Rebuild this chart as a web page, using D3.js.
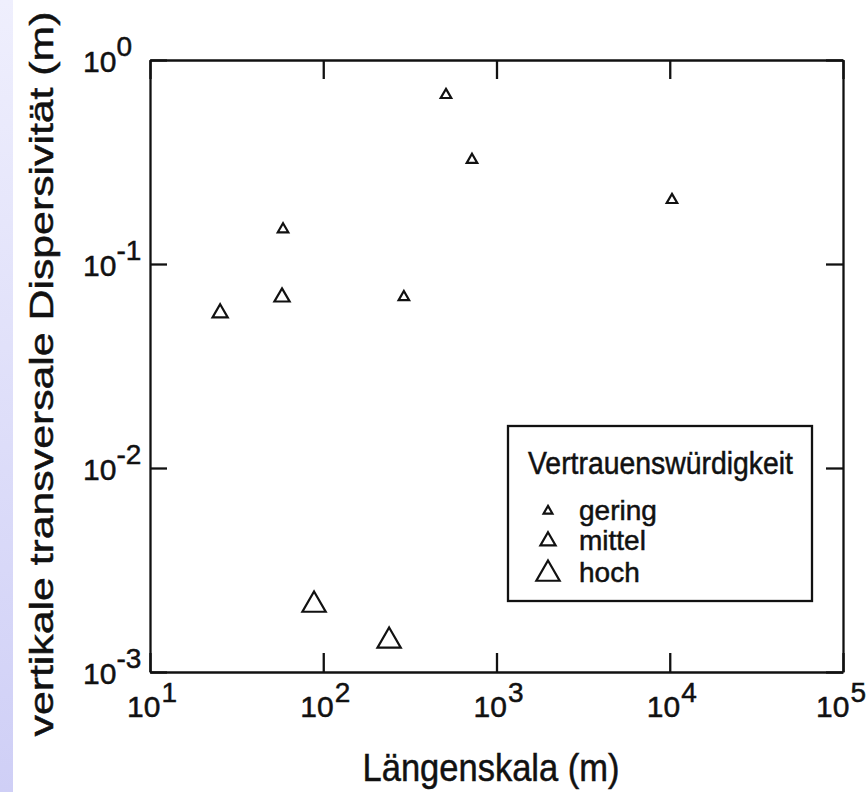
<!DOCTYPE html>
<html>
<head>
<meta charset="utf-8">
<script src="https://cdn.jsdelivr.net/npm/d3@7"></script>
<style>
  html, body { margin: 0; padding: 0; background: #fff; }
  svg { display: block; font-family: "Liberation Sans", Arial, sans-serif; }
  svg text { fill: #111; stroke: #111; stroke-width: 0.5px; }
</style>
</head>
<body>
<div id="chart"></div>
<script>
// values
const levels = ["gering", "mittel", "hoch"];
const lengths = [511, 722, 10300, 58.6, 292, 57.8, 25.4, 88.5, 240];
const dispersivities = [0.674, 0.324, 0.206, 0.148, 0.0688, 0.0688, 0.0575, 0.00213, 0.00142];
const reliability = ["gering", "gering", "gering", "gering", "gering", "mittel", "mittel", "hoch", "hoch"];
const xTickExp = [1, 2, 3, 4, 5];
const yTickExp = [0, -1, -2, -3];

const width = 868, height = 792;
const margin = { top: 60, right: 25, bottom: 120, left: 150 };

const svg = d3.select("#chart").append("svg")
  .attr("width", width).attr("height", height);

// lavender slide strip on the left
const grad = svg.append("defs").append("linearGradient")
  .attr("id", "strip").attr("x1", 0).attr("y1", 0).attr("x2", 0).attr("y2", 1);
grad.append("stop").attr("offset", "0%").attr("stop-color", "#efeffd");
grad.append("stop").attr("offset", "100%").attr("stop-color", "#cfcff6");
svg.append("rect").attr("width", 13).attr("height", height).attr("fill", "url(#strip)");

const x = d3.scaleLog().domain([10, 1e5]).range([margin.left, width - margin.right]);
const y = d3.scaleLog().domain([1e-3, 1]).range([height - margin.bottom, margin.top]);

const data = lengths.map((d, i) => ({ len: d, disp: dispersivities[i], level: reliability[i] }));
const size = d3.scaleOrdinal().domain(levels).range([48, 100, 235]);
const tri = d3.symbol().type(d3.symbolTriangle);

// frame + inward ticks on all four sides
const xv = xTickExp.map(e => Math.pow(10, e));
const yv = yTickExp.map(e => Math.pow(10, e));
const axes = [
  [d3.axisBottom(x).tickValues(xv).tickSize(-19), `translate(0,${y.range()[0]})`],
  [d3.axisTop(x).tickValues(xv).tickSize(-19), `translate(0,${y.range()[1]})`],
  [d3.axisLeft(y).tickValues(yv).tickSize(-17), `translate(${x.range()[0]},0)`],
  [d3.axisRight(y).tickValues(yv).tickSize(-17), `translate(${x.range()[1]},0)`]
];
axes.forEach(([ax, tr]) => {
  const g = svg.append("g").attr("transform", tr)
    .call(ax.tickSizeOuter(0).tickFormat(""));
  g.selectAll("path, line").attr("stroke", "#111").attr("stroke-width", 2.3);
  g.selectAll("text").remove();
});

// tick labels, 10 with exponent
const xl = svg.append("g");
xTickExp.forEach(e => {
  const t = xl.append("text").attr("x", x(Math.pow(10, e)) + 2).attr("y", y.range()[0] + 45)
    .attr("text-anchor", "middle").attr("font-size", 30);
  t.append("tspan").text("10");
  t.append("tspan").attr("dy", -15).attr("dx", 1).attr("font-size", 28).text(e);
  // keep the last label inside the page
  const b = t.node().getBBox();
  if (b.x + b.width > width - 2) t.attr("x", +t.attr("x") - (b.x + b.width - (width - 2)));
});
const yl = svg.append("g");
yTickExp.forEach(e => {
  const t = yl.append("text").attr("x", 83).attr("y", y(Math.pow(10, e)) + 12)
    .attr("font-size", 30);
  t.append("tspan").text("10");
  t.append("tspan").attr("dy", -16).attr("font-size", 28).text(e === 0 ? "0" : "-" + Math.abs(e));
});

// axis titles
svg.append("text")
  .attr("x", 491).attr("y", 781).attr("text-anchor", "middle")
  .attr("font-size", 39).attr("textLength", 257).attr("lengthAdjust", "spacingAndGlyphs")
  .text("Längenskala (m)");
svg.append("text")
  .attr("transform", "translate(53,374) rotate(-90)").attr("text-anchor", "middle")
  .attr("font-size", 34).attr("textLength", 725).attr("lengthAdjust", "spacingAndGlyphs")
  .text("vertikale transversale Dispersivität (m)");

// points
svg.append("g").selectAll("path").data(data).join("path")
  .attr("transform", d => `translate(${x(d.len)},${y(d.disp)})`)
  .attr("d", d => tri.size(size(d.level))())
  .attr("fill", "none").attr("stroke", "#111").attr("stroke-width", 2.2);

// legend
const lg = svg.append("g");
lg.append("rect").attr("x", 508).attr("y", 426).attr("width", 304).attr("height", 175)
  .attr("fill", "#fff").attr("stroke", "#111").attr("stroke-width", 2.3);
lg.append("text").attr("x", 528).attr("y", 474).attr("font-size", 31)
  .attr("textLength", 265).attr("lengthAdjust", "spacingAndGlyphs")
  .text("Vertrauenswürdigkeit");
const item = lg.selectAll("g.item").data(levels).join("g").attr("class", "item")
  .attr("transform", (d, i) => `translate(548,${[511, 541, 574][i]})`);
item.append("path").attr("d", d => tri.size(size(d) * (d === "gering" ? 0.7 : 1))())
  .attr("fill", "none").attr("stroke", "#111").attr("stroke-width", 2.2);
item.append("text").attr("x", 31).attr("y", (d, i) => [9, 9, 8][i]).attr("font-size", 28)
  .text(d => d);
</script>
</body>
</html>
